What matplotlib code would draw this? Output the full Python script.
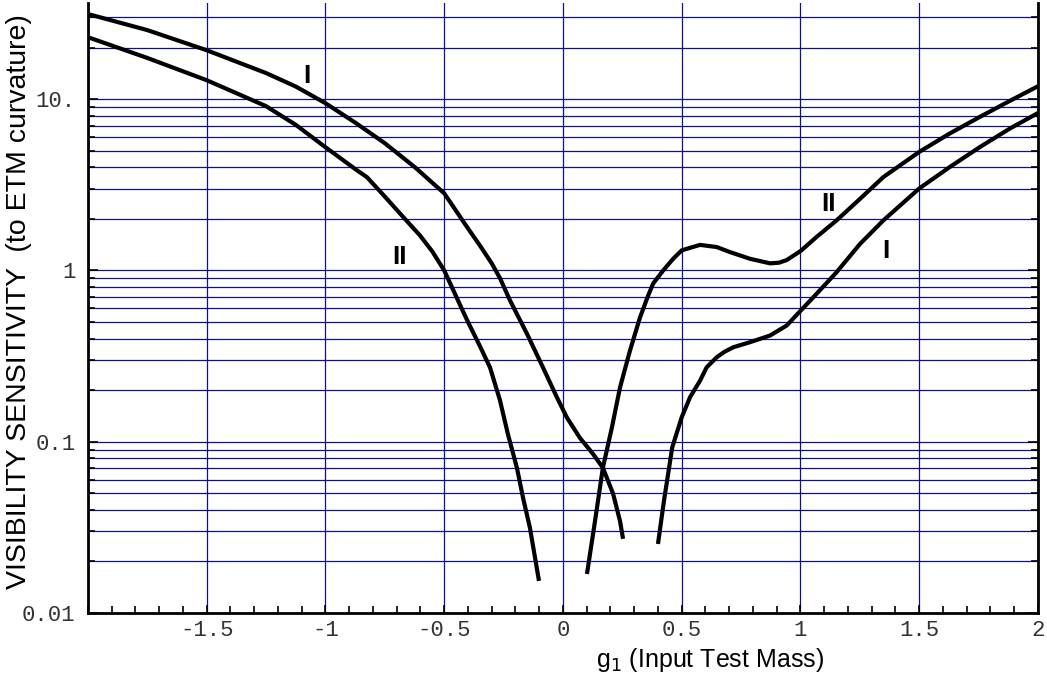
import numpy as np
import matplotlib
matplotlib.use("Agg")
import matplotlib.pyplot as plt
from matplotlib.ticker import FixedLocator, FixedFormatter, LogLocator, NullFormatter, MultipleLocator

# curve I, left branch
g1_I_left = [-2.0, -1.75, -1.5, -1.25, -1.125, -1.0, -0.875, -0.75, -0.623, -0.5,
             -0.4, -0.35, -0.3, -0.265, -0.223, -0.152, -0.084, -0.025, 0.017, 0.072,
             0.126, 0.168, 0.211, 0.24, 0.253]
vis_I_left = [31.4, 25.3, 19.3, 14.2, 11.85, 9.47, 7.3, 5.53, 4.0, 2.82,
              1.76, 1.40, 1.1, 0.9, 0.668, 0.428, 0.271, 0.181, 0.138, 0.105,
              0.0851, 0.0705, 0.0497, 0.0345, 0.0271]

# curve II, left branch
g1_II_left = [-2.0, -1.75, -1.5, -1.25, -1.125, -1.0, -0.876, -0.825, -0.749, -0.686,
              -0.602, -0.55, -0.5, -0.442, -0.4, -0.349, -0.307, -0.265, -0.232,
              -0.194, -0.168, -0.139, -0.101]
vis_II_left = [23.0, 17.4, 12.9, 9.1, 7.08, 5.24, 3.92, 3.50, 2.69, 2.15,
               1.60, 1.29, 1.0, 0.668, 0.50, 0.36, 0.271, 0.174, 0.111,
               0.0705, 0.047, 0.0314, 0.0154]

# curve II, right branch
g1_II_right = [0.101, 0.135, 0.168, 0.206, 0.24, 0.282, 0.324, 0.358, 0.38, 0.422,
               0.464, 0.5, 0.577, 0.647, 0.703, 0.787, 0.872, 0.91, 0.942, 1.001,
               1.068, 1.152, 1.251, 1.349, 1.5, 1.629, 1.756, 1.882, 2.0]
vis_II_right = [0.0169, 0.0345, 0.0705, 0.121, 0.207, 0.34, 0.53, 0.71, 0.84, 1.0,
                1.17, 1.31, 1.41, 1.37, 1.28, 1.17, 1.10, 1.11, 1.15, 1.30,
                1.57, 1.96, 2.62, 3.51, 4.92, 6.31, 7.89, 9.78, 11.9]

# curve I, right branch
g1_I_right = [0.40, 0.425, 0.46, 0.5, 0.535, 0.577, 0.605, 0.647, 0.68, 0.717,
              0.787, 0.872, 0.942, 1.001, 1.068, 1.152, 1.251, 1.349, 1.5, 1.629,
              1.756, 1.882, 2.0]
vis_I_right = [0.0253, 0.045, 0.0927, 0.139, 0.182, 0.227, 0.272, 0.311, 0.335, 0.356,
               0.381, 0.417, 0.477, 0.583, 0.731, 0.977, 1.43, 1.96, 3.01, 4.02,
               5.26, 6.74, 8.3]

x_ticks = [-1.5, -1, -0.5, 0, 0.5, 1, 1.5, 2]
x_tick_labels = ["-1.5", "-1", "-0.5", "0", "0.5", "1", "1.5", "2"]
y_ticks = [0.01, 0.1, 1, 10]
y_tick_labels = ["0.01", "0.1", "1", "10."]

# curve labels (text, x, y)
curve_labels = [("I", -1.08, 13.6), ("II", -0.69, 1.2), ("II", 1.12, 2.45), ("I", 1.36, 1.3)]

grid_color = "#10108a"

fig = plt.figure(figsize=(10.47, 6.77), dpi=100)
ax = fig.add_axes([0.084, 0.0945, 0.9074, 0.901])

for xs, ys in [(g1_I_left, vis_I_left), (g1_II_left, vis_II_left),
               (g1_II_right, vis_II_right), (g1_I_right, vis_I_right)]:
    ax.plot(xs, ys, color="black", lw=3.0, solid_capstyle="butt",
            solid_joinstyle="round", zorder=3)

for txt, x, y in curve_labels:
    ax.text(x, y, txt, fontsize=19, fontweight="bold", family="Liberation Sans",
            ha="center", va="center", zorder=4)

ax.set_yscale("log")
ax.set_xlim(-2, 2)
ax.set_ylim(0.01, 36.4)

ax.xaxis.set_major_locator(FixedLocator(x_ticks))
ax.xaxis.set_major_formatter(FixedFormatter(x_tick_labels))
ax.xaxis.set_minor_locator(MultipleLocator(0.1))
ax.yaxis.set_major_locator(FixedLocator(y_ticks))
ax.yaxis.set_major_formatter(FixedFormatter(y_tick_labels))
ax.yaxis.set_minor_locator(LogLocator(base=10, subs=np.arange(2, 10)))
ax.yaxis.set_minor_formatter(NullFormatter())

ax.grid(which="major", axis="x", color=grid_color, lw=0.9)
ax.grid(which="both", axis="y", color=grid_color, lw=0.9)
ax.set_axisbelow(True)

ax.spines["top"].set_visible(False)
for s in ["left", "right", "bottom"]:
    ax.spines[s].set_linewidth(2.0)

ax.tick_params(axis="x", which="both", direction="in", top=False, width=1.2)
ax.tick_params(axis="x", which="major", length=6, pad=5)
ax.tick_params(axis="x", which="minor", length=5)
ax.tick_params(axis="y", which="both", direction="in", left=True, right=True, width=1.2)
ax.tick_params(axis="y", which="major", length=7, pad=9)
ax.tick_params(axis="y", which="minor", length=5)

for lab in ax.get_xticklabels() + ax.get_yticklabels():
    lab.set_family("Liberation Mono")
    lab.set_fontsize(16)
    lab.set_color("#333333")

ax.set_ylabel("VISIBILITY SENSITIVITY  (to ETM curvature)", fontsize=20.5,
              family="Liberation Sans")
ax.yaxis.set_label_coords(-0.059, 0.51)
ax.set_xlabel("g$_1$ (Input Test Mass)", fontsize=18, family="Liberation Sans")
ax.xaxis.label.set_va("baseline")
ax.xaxis.set_label_coords(0.655, -0.0885)

fig.savefig("out.png", dpi=100)
